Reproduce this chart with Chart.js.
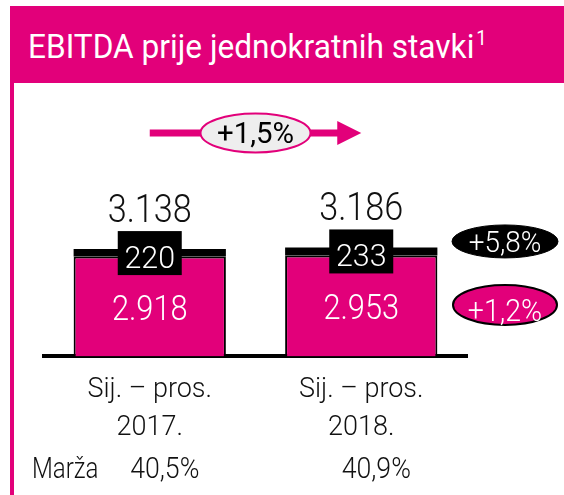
<!DOCTYPE html>
<html>
<head>
<meta charset="utf-8">
<script src="https://cdn.jsdelivr.net/npm/chart.js@4.4.0/dist/chart.umd.min.js"></script>
<style>
  html, body { margin: 0; padding: 0; background: #fff; }
  #wrap { position: relative; width: 564px; height: 495px; overflow: hidden; }
  #header { position: absolute; left: 10px; top: 6px; width: 554px; height: 77px; background: #e2007a; }
  #title {
    position: absolute; left: 18px; top: 23px; line-height: 34px; white-space: nowrap;
    color: #fff; font-family: "Roboto", "Liberation Sans", sans-serif; font-size: 34px;
    transform: scaleX(0.93); transform-origin: left center;
  }
  #title span { font-size: 20px; position: relative; top: -13px; margin-left: 2px; }
  #leftBar { position: absolute; left: 10px; top: 83px; width: 4px; height: 412px; background: #e2007a; }
  canvas { position: absolute; left: 0; top: 0; }
</style>
</head>
<body>
<div id="wrap">
  <canvas id="chart" width="564" height="495"></canvas>
  <div id="header"><div id="title">EBITDA prije jednokratnih stavki<span>1</span></div></div>
  <div id="leftBar"></div>
</div>
<script>
// podaci (mil. kn)
const categories = [["Sij. – pros.", "2017."], ["Sij. – pros.", "2018."]];
const baseValues = [2918, 2953];   // EBITDA bez top segmenta
const topValues = [220, 233];      // gornji (crni) segment
const margins = ["40,5%", "40,9%"];
const marginLabel = "Marža";
const growthTotal = "+1,5%";
const growthTop = "+5,8%";
const growthBase = "+1,2%";

const MAGENTA = "#e2007a";
const FONT = '"Roboto", "Liberation Sans", sans-serif';

// 2918 -> "2.918"
function fmt(n) {
  return String(n).replace(/\B(?=(\d{3})+(?!\d))/g, ".");
}

function drawText(ctx, text, x, y, size, color, sx, align, weight) {
  ctx.save();
  ctx.translate(x, y);
  ctx.scale(sx, 1);
  ctx.font = `${weight || 300} ${size}px ${FONT}`;
  ctx.fillStyle = color;
  ctx.textAlign = align || "center";
  ctx.textBaseline = "alphabetic";
  ctx.fillText(text, 0, 0);
  ctx.restore();
}

function ellipse(ctx, cx, cy, rx, ry, fill, stroke, lw) {
  ctx.beginPath();
  ctx.ellipse(cx, cy, rx, ry, 0, 0, Math.PI * 2);
  ctx.fillStyle = fill;
  ctx.fill();
  ctx.lineWidth = lw;
  ctx.strokeStyle = stroke;
  ctx.stroke();
}

// oznake, elipse i strelica
const labelsPlugin = {
  id: "labels",
  afterDraw(chart) {
    const ctx = chart.ctx;
    const area = chart.chartArea;
    const baseMeta = chart.getDatasetMeta(0);
    const topMeta = chart.getDatasetMeta(1);

    topMeta.data.forEach((bar, i) => {
      const x = bar.x;
      const top = bar.y;
      const baseBar = baseMeta.data[i];
      const mid = (baseBar.y + baseBar.base) / 2;

      // crni okvir s vrijednosti gornjeg segmenta
      ctx.fillStyle = "#000";
      ctx.fillRect(x - 32, top - 18, 64, 44);
      drawText(ctx, String(topValues[i]), x, top + 19, 32, "#fff", 0.95);

      // vrijednost unutar magenta stupca
      drawText(ctx, fmt(baseValues[i]), x, mid + 13, 35, "#fff", 0.88);

      // ukupno iznad stupca
      drawText(ctx, fmt(baseValues[i] + topValues[i]), x, top - 27, 38, "#111", 0.9);

      // marža ispod
      drawText(ctx, margins[i], x + 15, area.bottom + 121.5, 29, "#111", 0.92);
    });
    drawText(ctx, marginLabel, 32, area.bottom + 121.5, 29, "#111", 0.83, "left");

    // elipse s rastom desno od drugog stupca
    const last = topMeta.data.length - 1;
    const lastTop = topMeta.data[last].y;
    const lastBase = baseMeta.data[last];
    const ex = area.right + 38;
    ellipse(ctx, ex, lastTop - 6, 53, 16.5, "#000", "#000", 1);
    drawText(ctx, growthTop, ex, lastTop + 5, 30, "#fff", 0.93);
    const my = (lastBase.y + lastBase.base) / 2 - 1;
    ellipse(ctx, ex, my, 52, 20, MAGENTA, "#000", 2);
    drawText(ctx, growthBase, ex, my + 16, 31, "#fff", 0.92);

    // strelica od prvog do drugog stupca
    const x0 = topMeta.data[0].x;
    const x1 = topMeta.data[last].x;
    const ay = area.top + 16;
    ctx.strokeStyle = MAGENTA;
    ctx.lineWidth = 7;
    ctx.beginPath();
    ctx.moveTo(x0, ay);
    ctx.lineTo(x1 - 22, ay);
    ctx.stroke();
    ctx.fillStyle = MAGENTA;
    ctx.beginPath();
    ctx.moveTo(x1 - 24, ay - 12);
    ctx.lineTo(x1, ay);
    ctx.lineTo(x1 - 24, ay + 12);
    ctx.closePath();
    ctx.fill();
    const amx = (x0 + x1) / 2;
    ellipse(ctx, amx, ay, 55, 19.5, "#eeeeee", MAGENTA, 2);
    drawText(ctx, growthTotal, amx, ay + 10, 30, "#000", 0.98, "center", 400);
  }
};

const ctx = document.getElementById("chart").getContext("2d");
new Chart(ctx, {
  type: "bar",
  data: {
    labels: categories,
    datasets: [
      {
        label: "EBITDA",
        data: baseValues,
        backgroundColor: MAGENTA,
        borderColor: "#000",
        borderWidth: { left: 2, right: 2, top: 2, bottom: 0 },
        borderSkipped: false,
        barPercentage: 0.72,
        categoryPercentage: 1,
      },
      {
        label: "Gornji dio",
        data: topValues,
        backgroundColor: "#000",
        borderWidth: 0,
        barPercentage: 0.72,
        categoryPercentage: 1,
      },
    ],
  },
  options: {
    responsive: false,
    animation: false,
    layout: { padding: { left: 44, right: 97, top: 117, bottom: 33 } },
    plugins: { legend: { display: false }, tooltip: { enabled: false } },
    scales: {
      x: {
        stacked: true,
        z: 1,
        grid: { display: true, drawOnChartArea: false, drawTicks: false, color: "rgba(0,0,0,0)" },
        border: { display: true, color: "#000", width: 4 },
        ticks: {
          padding: 15,
          color: "#111",
          font: { family: FONT, size: 27, weight: 300, lineHeight: 1.4 },
        },
      },
      y: { stacked: true, display: false, min: 0, max: 7000 },
    },
  },
  plugins: [labelsPlugin],
});
</script>
</body>
</html>
